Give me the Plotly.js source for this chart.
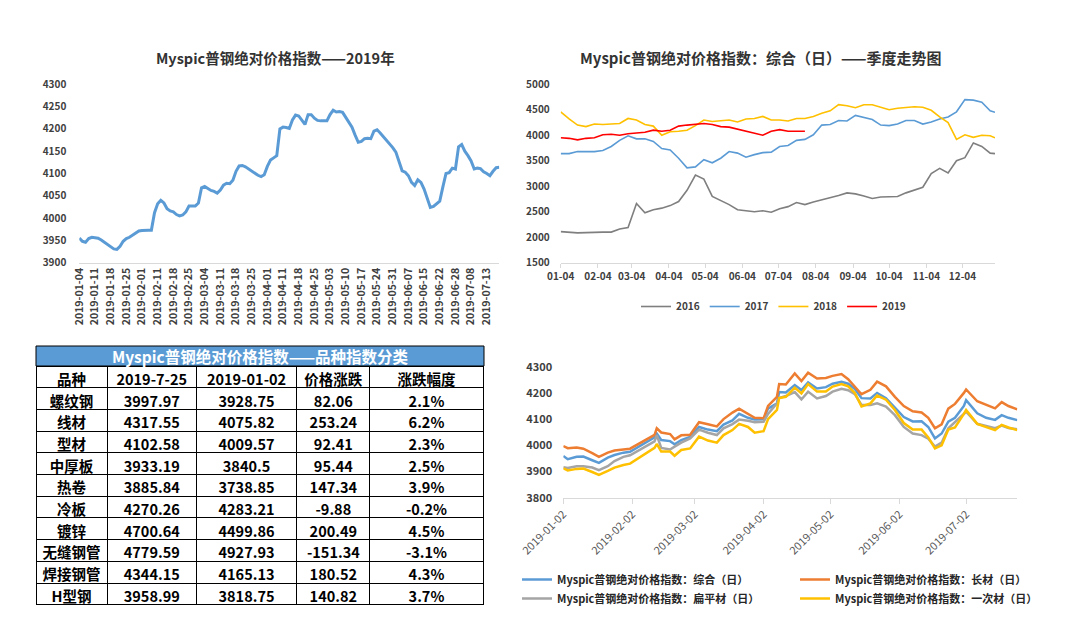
<!DOCTYPE html>
<html>
<head>
<meta charset="utf-8">
<script src="https://cdn.plot.ly/plotly-3.0.1.min.js"></script>
<style>html,body{margin:0;padding:0;background:#fff}</style>
</head>
<body>
<div id="chart" style="width:1069px;height:628px"></div>
<script>
// 2019 daily index (top left)
var ytdLabels = ['2019-01-04','2019-01-11','2019-01-18','2019-01-25','2019-02-01','2019-02-11','2019-02-18','2019-02-25',
  '2019-03-04','2019-03-11','2019-03-18','2019-03-25','2019-04-01','2019-04-11','2019-04-18','2019-04-25','2019-05-03',
  '2019-05-10','2019-05-17','2019-05-24','2019-05-31','2019-06-07','2019-06-15','2019-06-22','2019-06-28','2019-07-08','2019-07-13'];
var ytdIndex = [3955,3948,3946,3954,3957,3956,3955,3951,3946,3941,3935,3931,3930,3937,3948,3954,3957,3962,3968,3971,
  3972,3973,3973,3973,4012,4032,4040,4034,4021,4016,4014,4008,4005,4007,4014,4027,4027,4027,4034,4068,
  4071,4067,4062,4060,4056,4063,4074,4078,4077,4085,4105,4117,4118,4115,4110,4104,4099,4096,4093,4097,
  4116,4130,4135,4140,4200,4204,4203,4201,4220,4231,4229,4220,4210,4232,4232,4224,4219,4218,4218,4218,
  4232,4242,4238,4239,4237,4226,4212,4204,4186,4170,4172,4178,4179,4178,4195,4198,4191,4183,4175,4166,
  4158,4148,4127,4106,4103,4095,4080,4073,4086,4080,4065,4045,4024,4026,4033,4038,4070,4100,4102,4112,
  4110,4160,4165,4150,4140,4128,4110,4112,4111,4104,4100,4095,4105,4113,4114];

// seasonal chart (top right), weekly readings
var seasonDates = ['01-04','01-11','01-18','01-25','02-01','02-08','02-15','02-22','03-01','03-08','03-15','03-22','03-29',
  '04-05','04-12','04-19','04-26','05-03','05-10','05-17','05-24','05-31','06-07','06-14','06-21','06-28',
  '07-05','07-12','07-19','07-26','08-02','08-09','08-16','08-23','08-30','09-06','09-13','09-20','09-27',
  '10-04','10-11','10-18','10-25','11-01','11-08','11-15','11-22','11-29','12-06','12-13','12-20','12-27','12-31'];
var y2016 = [2110,2095,2085,2090,2100,2100,2100,2160,2190,2660,2480,2540,2570,2620,2700,2920,3220,3140,2800,2720,
  2640,2540,2520,2500,2520,2490,2560,2600,2680,2640,2690,2730,2780,2820,2870,2850,2810,2760,2790,2800,
  2800,2870,2930,2980,3250,3350,3260,3500,3560,3850,3780,3650,3640];
var y2017 = [3640,3640,3680,3680,3680,3700,3780,3900,3990,3930,3930,3880,3740,3710,3550,3360,3380,3520,3460,3550,
  3680,3650,3570,3620,3660,3670,3780,3800,3900,3920,4010,4200,4210,4290,4280,4390,4350,4310,4200,4190,
  4220,4290,4290,4220,4260,4320,4360,4460,4700,4690,4650,4480,4450];
var y2018 = [4460,4320,4200,4170,4220,4210,4220,4230,4330,4300,4210,4180,4000,4070,4080,4100,4190,4300,4270,4290,
  4300,4260,4320,4330,4370,4300,4300,4280,4330,4330,4370,4430,4480,4600,4580,4540,4600,4600,4550,4500,
  4530,4550,4560,4550,4490,4360,4250,3920,4010,3960,4000,3990,3950];
var y2019 = [3950,3940,3910,3940,3950,4010,4020,4000,4030,4040,4060,4100,4080,4100,4180,4200,4210,4230,4210,4170,
  4160,4120,4080,4050,4000,4080,4110,4080,4080,4080];

// category indices (bottom right)
var dailyDates = ['2019-01-02','2019-01-04','2019-01-08','2019-01-11','2019-01-15','2019-01-18','2019-01-22','2019-01-25',
  '2019-01-29','2019-02-01','2019-02-12','2019-02-13','2019-02-15','2019-02-19','2019-02-21','2019-02-24','2019-02-28',
  '2019-03-04','2019-03-08','2019-03-12','2019-03-15','2019-03-19','2019-03-22','2019-03-26','2019-03-29','2019-04-02',
  '2019-04-04','2019-04-08','2019-04-09','2019-04-12','2019-04-16','2019-04-19','2019-04-22','2019-04-26','2019-04-30',
  '2019-05-03','2019-05-07','2019-05-10','2019-05-13','2019-05-16','2019-05-20','2019-05-23','2019-05-27','2019-05-31',
  '2019-06-04','2019-06-08','2019-06-12','2019-06-15','2019-06-18','2019-06-21','2019-06-24','2019-06-27','2019-07-01',
  '2019-07-02','2019-07-07','2019-07-11','2019-07-15','2019-07-18','2019-07-21','2019-07-25'];
var composite = [3959,3947,3956,3957,3943,3933,3953,3963,3972,3975,4030,4045,4020,4016,4004,4020,4032,4070,4060,4054,
  4079,4095,4120,4105,4098,4099,4140,4160,4203,4202,4230,4211,4240,4217,4222,4235,4242,4235,4215,4180,
  4179,4200,4180,4145,4108,4091,4092,4070,4026,4045,4090,4105,4150,4172,4122,4105,4097,4115,4105,4096];
var longSteel = [3997,3989,3992,3987,3970,3956,3972,3980,3984,3987,4040,4065,4049,4043,4023,4038,4040,4088,4080,4072,
  4100,4125,4140,4120,4105,4103,4150,4185,4234,4232,4274,4245,4277,4255,4257,4265,4272,4252,4225,4195,
  4212,4243,4225,4185,4150,4130,4125,4105,4065,4080,4140,4158,4200,4213,4168,4155,4141,4165,4150,4137];
var flatSteel = [3916,3913,3920,3920,3915,3905,3920,3940,3956,3962,4015,4039,3990,3984,3995,4010,4026,4060,4048,4039,
  4065,4081,4098,4094,4088,4090,4120,4160,4180,4188,4203,4175,4205,4179,4188,4205,4216,4210,4195,4154,
  4154,4160,4148,4115,4070,4045,4039,4025,3995,4010,4065,4090,4120,4128,4082,4073,4065,4075,4066,4061];
var primarySteel = [3912,3904,3910,3911,3898,3887,3902,3915,3925,3930,3990,4005,3976,3976,3960,3982,3988,4033,4018,4010,
  4039,4058,4082,4070,4048,4054,4100,4135,4180,4185,4220,4198,4234,4205,4205,4224,4234,4225,4200,4148,
  4160,4190,4174,4135,4085,4060,4060,4030,3988,4000,4060,4068,4120,4135,4082,4071,4058,4078,4068,4058];

// table
var tableHeader = ['品种','2019-7-25','2019-01-02','价格涨跌','涨跌幅度'];
var varieties = ['螺纹钢','线材','型材','中厚板','热卷','冷板','镀锌','无缝钢管','焊接钢管','H型钢'];
var priceJul25 = ['3997.97','4317.55','4102.58','3933.19','3885.84','4270.26','4700.64','4779.59','4344.15','3958.99'];
var priceJan02 = ['3928.75','4075.82','4009.57','3840.5','3738.85','4283.21','4499.86','4927.93','4165.13','3818.75'];
var priceChange = ['82.06','253.24','92.41','95.44','147.34','-9.88','200.49','-151.34','180.52','140.82'];
var changePct = ['2.1%','6.2%','2.3%','2.5%','3.9%','-0.2%','4.5%','-3.1%','4.3%','3.7%'];

var W = 1069, H = 628;
function px(x) { return x / W; }
function py(y) { return 1 - y / H; }
var FONT = 'Noto Sans CJK SC, Microsoft YaHei, sans-serif';

var data = [
  {
    x: ytdIndex.map(function (v, i) { return i; }), y: ytdIndex,
    type: 'scatter', mode: 'lines', xaxis: 'x', yaxis: 'y', showlegend: false,
    line: {color: '#5B9BD5', width: 3}, hoverinfo: 'y'
  },
  {x: seasonDates.map(function (d) { return '2019-' + d; }), y: y2016, name: '2016',
    type: 'scatter', mode: 'lines', xaxis: 'x2', yaxis: 'y2', legend: 'legend', line: {color: '#7F7F7F', width: 1.6}},
  {x: seasonDates.map(function (d) { return '2019-' + d; }), y: y2017, name: '2017',
    type: 'scatter', mode: 'lines', xaxis: 'x2', yaxis: 'y2', legend: 'legend', line: {color: '#5B9BD5', width: 1.6}},
  {x: seasonDates.map(function (d) { return '2019-' + d; }), y: y2018, name: '2018',
    type: 'scatter', mode: 'lines', xaxis: 'x2', yaxis: 'y2', legend: 'legend', line: {color: '#FFC000', width: 1.6}},
  {x: seasonDates.slice(0, y2019.length).map(function (d) { return '2019-' + d; }), y: y2019, name: '2019',
    type: 'scatter', mode: 'lines', xaxis: 'x2', yaxis: 'y2', legend: 'legend', line: {color: '#FF0000', width: 1.6}},
  {x: dailyDates, y: composite, name: 'Myspic普钢绝对价格指数：综合（日）',
    type: 'scatter', mode: 'lines', xaxis: 'x3', yaxis: 'y3', legend: 'legend2', line: {color: '#5B9BD5', width: 2.5}},
  {x: dailyDates, y: longSteel, name: 'Myspic普钢绝对价格指数：长材（日）',
    type: 'scatter', mode: 'lines', xaxis: 'x3', yaxis: 'y3', legend: 'legend3', line: {color: '#ED7D31', width: 2.5}},
  {x: dailyDates, y: flatSteel, name: 'Myspic普钢绝对价格指数：扁平材（日）',
    type: 'scatter', mode: 'lines', xaxis: 'x3', yaxis: 'y3', legend: 'legend2', line: {color: '#A5A5A5', width: 2.5}},
  {x: dailyDates, y: primarySteel, name: 'Myspic普钢绝对价格指数：一次材（日）',
    type: 'scatter', mode: 'lines', xaxis: 'x3', yaxis: 'y3', legend: 'legend3', line: {color: '#FFC000', width: 2.5}},
  {
    type: 'table',
    domain: {x: [px(36), px(484)], y: [py(606.7), py(366)]},
    columnwidth: [71.3, 89.4, 100.6, 73.4, 113.3],
    header: {
      values: tableHeader, align: 'center', height: 21.7,
      fill: {color: '#ffffff'}, line: {color: '#000000', width: 1},
      font: {family: FONT, size: 14.5, color: '#000000', weight: 'bold'}
    },
    cells: {
      values: [varieties, priceJul25, priceJan02, priceChange, changePct], align: 'center', height: 21.7,
      fill: {color: '#ffffff'}, line: {color: '#000000', width: 1},
      font: {family: FONT, size: 14.5, color: '#000000', weight: 'bold'}
    }
  }
];

var tickFont = {family: FONT, size: 10, color: '#404040', weight: 'bold'};

var layout = {
  width: W, height: H,
  margin: {l: 0, r: 0, t: 0, b: 0},
  paper_bgcolor: '#ffffff', plot_bgcolor: '#ffffff',
  font: {family: FONT, color: '#404040'},
  hovermode: false,
  xaxis: {
    domain: [px(79.3), px(499.3)], anchor: 'y', range: [0, ytdIndex.length - 1],
    tickmode: 'array', tickvals: ytdLabels.map(function (l, i) { return i * 5; }), ticktext: ytdLabels,
    tickangle: -90, tickfont: {family: FONT, size: 10.5, color: '#404040', weight: 'bold'},
    showgrid: false, zeroline: false, showline: true, linecolor: '#D9D9D9', ticks: ''
  },
  yaxis: {
    domain: [py(262.7), py(84.3)], anchor: 'x', range: [3900, 4300], dtick: 50,
    showgrid: false, zeroline: false, showline: false, ticks: '', tickfont: tickFont, ticklabelstandoff: 12
  },
  xaxis2: {
    domain: [px(560.7), px(995)], anchor: 'y2', type: 'date',
    range: ['2019-01-04', '2019-12-31'], tick0: '2019-01-04', dtick: 'M1', tickformat: '%m-%d',
    tickfont: tickFont, showgrid: false, zeroline: false, showline: true, linecolor: '#D9D9D9',
    ticks: 'outside', ticklen: 4, tickcolor: '#D9D9D9'
  },
  yaxis2: {
    domain: [py(262.7), py(84.3)], anchor: 'x2', range: [1500, 5000], dtick: 500,
    showgrid: false, zeroline: false, showline: false, ticks: '', tickfont: tickFont, ticklabelstandoff: 10
  },
  xaxis3: {
    domain: [px(563.3), px(1017.3)], anchor: 'y3', type: 'date',
    range: ['2019-01-02', '2019-07-25'], tick0: '2019-01-02', dtick: 'M1', tickformat: '%Y-%m-%d',
    tickangle: -45, tickfont: {family: FONT, size: 11, color: '#595959'},
    showgrid: false, zeroline: false, showline: true, linecolor: '#D9D9D9',
    ticks: 'outside', ticklen: 5, tickcolor: '#D9D9D9'
  },
  yaxis3: {
    domain: [py(497.7), py(366.7)], anchor: 'x3', range: [3800, 4300], dtick: 100,
    showgrid: false, zeroline: false, showline: false, ticks: '',
    tickfont: {family: FONT, size: 11, color: '#404040', weight: 'bold'}, ticklabelstandoff: 10
  },
  legend: {
    orientation: 'h', x: px(636), y: py(292), xanchor: 'left', yanchor: 'top',
    font: {family: FONT, size: 10, color: '#404040', weight: 'bold'}, itemwidth: 30, bgcolor: 'rgba(0,0,0,0)'
  },
  legend2: {
    orientation: 'v', x: px(517), y: py(565), xanchor: 'left', yanchor: 'top', tracegroupgap: 0,
    font: {family: FONT, size: 11, color: '#262626', weight: 'bold'}, itemwidth: 30, bgcolor: 'rgba(0,0,0,0)'
  },
  legend3: {
    orientation: 'v', x: px(795), y: py(565), xanchor: 'left', yanchor: 'top', tracegroupgap: 0,
    font: {family: FONT, size: 11, color: '#262626', weight: 'bold'}, itemwidth: 30, bgcolor: 'rgba(0,0,0,0)'
  },
  shapes: [
    {type: 'rect', xref: 'paper', yref: 'paper', x0: px(36), x1: px(484), y0: py(366), y1: py(346),
      fillcolor: '#5B9BD5', line: {color: '#000000', width: 1}}
  ],
  annotations: [
    {text: 'Myspic普钢绝对价格指数——2019年', xref: 'paper', yref: 'paper', x: px(275), y: py(57),
      showarrow: false, xanchor: 'center', yanchor: 'middle',
      font: {family: FONT, size: 14.5, color: '#333333', weight: 'bold'}},
    {text: 'Myspic普钢绝对价格指数：综合（日）——季度走势图', xref: 'paper', yref: 'paper', x: px(761), y: py(57),
      showarrow: false, xanchor: 'center', yanchor: 'middle',
      font: {family: FONT, size: 15, color: '#333333', weight: 'bold'}},
    {text: 'Myspic普钢绝对价格指数——品种指数分类', xref: 'paper', yref: 'paper', x: px(260), y: py(356),
      showarrow: false, xanchor: 'center', yanchor: 'middle',
      font: {family: FONT, size: 15.5, color: '#ffffff', weight: 'bold'}}
  ]
};

Plotly.newPlot('chart', data, layout, {displayModeBar: false, staticPlot: true});
</script>
</body>
</html>
